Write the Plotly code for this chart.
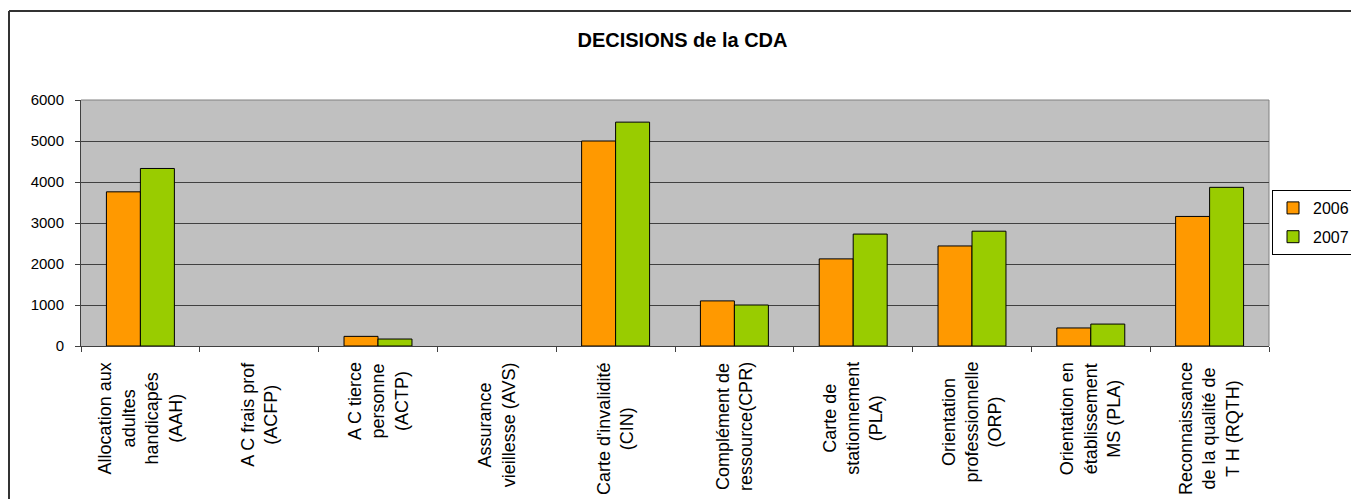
import plotly.graph_objects as go

# ---- data ----
categories = ["AAH", "ACFP", "ACTP", "AVS", "CIN", "CPR", "PLA_carte", "ORP", "MS", "RQTH"]
tick_labels = [
    "Allocation aux<br>adultes<br>handicapés<br>(AAH)",
    "A C frais prof<br>(ACFP)",
    "A C tierce<br>personne<br>(ACTP)",
    "Assurance<br>vieillesse (AVS)",
    "Carte d'invalidité<br>(CIN)",
    "Complément de<br>ressource(CPR)",
    "Carte de<br>stationnement<br>(PLA)",
    "Orientation<br>professionnelle<br>(ORP)",
    "Orientation en<br>établissement<br>MS (PLA)",
    "Reconnaissance<br>de la qualité de<br>T H (RQTH)",
]
values_2006 = [3760, 0, 235, 0, 5000, 1100, 2125, 2440, 440, 3160]
values_2007 = [4330, 0, 170, 0, 5460, 1000, 2730, 2800, 535, 3870]
series_names = ["2006", "2007"]
y_ticks = [0, 1000, 2000, 3000, 4000, 5000, 6000]

FONT = "Liberation Sans, Arial, sans-serif"

fig = go.Figure()
for name, vals, col in [(series_names[0], values_2006, "#FF9900"),
                        (series_names[1], values_2007, "#99CC00")]:
    fig.add_trace(go.Bar(
        x=categories, y=vals, name=name, legendgroup=name,
        marker=dict(color=col,
                    line=dict(color="black", width=[1 if v > 0 else 0 for v in vals]))))

W, H = 1351, 499
L, R, T, B = 81, 82, 100, 153
pw = W - L - R
ph = H - T - B

fig.update_layout(
    width=W, height=H,
    margin=dict(l=L, r=R, t=T, b=B, pad=0, autoexpand=False),
    paper_bgcolor="white",
    plot_bgcolor="#C0C0C0",
    barmode="group",
    bargap=0.428,
    bargroupgap=0,
    font=dict(family=FONT, color="black"),
    title=dict(text="<b>DECISIONS de la CDA</b>", font=dict(size=20, family=FONT, color="black"),
               x=(682.5 - L) / pw, xref="paper", xanchor="center",
               y=1 - 39.5 / H, yref="container", yanchor="middle"),
    showlegend=True,
    legend=dict(x=(1272 - L) / pw, xanchor="left", y=(346 - 222.5) / ph, yanchor="middle",
                bordercolor="black", borderwidth=1, bgcolor="white",
                font=dict(size=16, family=FONT), itemwidth=30,
                traceorder="grouped", tracegroupgap=5),
    xaxis=dict(type="category", categoryorder="array", categoryarray=categories,
               tickvals=categories, showticklabels=False,
               ticks="outside", ticklen=5, tickcolor="#404040", tickson="boundaries",
               showline=True, linecolor="#404040", linewidth=1, showgrid=False),
    yaxis=dict(range=[0, 6000], tickvals=y_ticks, tickfont=dict(size=15, family=FONT),
               ticks="outside", ticklen=5, tickcolor="#404040",
               showline=True, linecolor="#404040", linewidth=1,
               showgrid=True, gridcolor="#404040", gridwidth=1, zeroline=False,
               ticklabelstandoff=8),
)

# category labels: rotated, lines centred on each other
for cat, lab in zip(categories, tick_labels):
    fig.add_annotation(x=cat, xref="x", y=0, yref="paper", yanchor="top", xanchor="center",
                       yshift=-14, text=lab, textangle=-90, showarrow=False, align="center",
                       font=dict(size=18, family=FONT, color="black"))

# plot-area border (top/right, lighter gray)
fig.add_shape(type="line", xref="paper", yref="paper", x0=0, x1=1, y0=1, y1=1,
              line=dict(color="#808080", width=1), layer="below")
fig.add_shape(type="line", xref="paper", yref="paper", x0=1, x1=1, y0=0, y1=1,
              line=dict(color="#808080", width=1), layer="below")

# outer chart frame (left + top edges visible)
fx = (9 - L) / pw
fy = 1 + (T - 11) / ph
fig.add_shape(type="line", xref="paper", yref="paper", x0=fx, x1=fx, y0=fy, y1=-1.0,
              line=dict(color="#333333", width=2))
fig.add_shape(type="line", xref="paper", yref="paper", x0=fx, x1=1.2, y0=fy, y1=fy,
              line=dict(color="#333333", width=2))

fig.write_html("out.html")
